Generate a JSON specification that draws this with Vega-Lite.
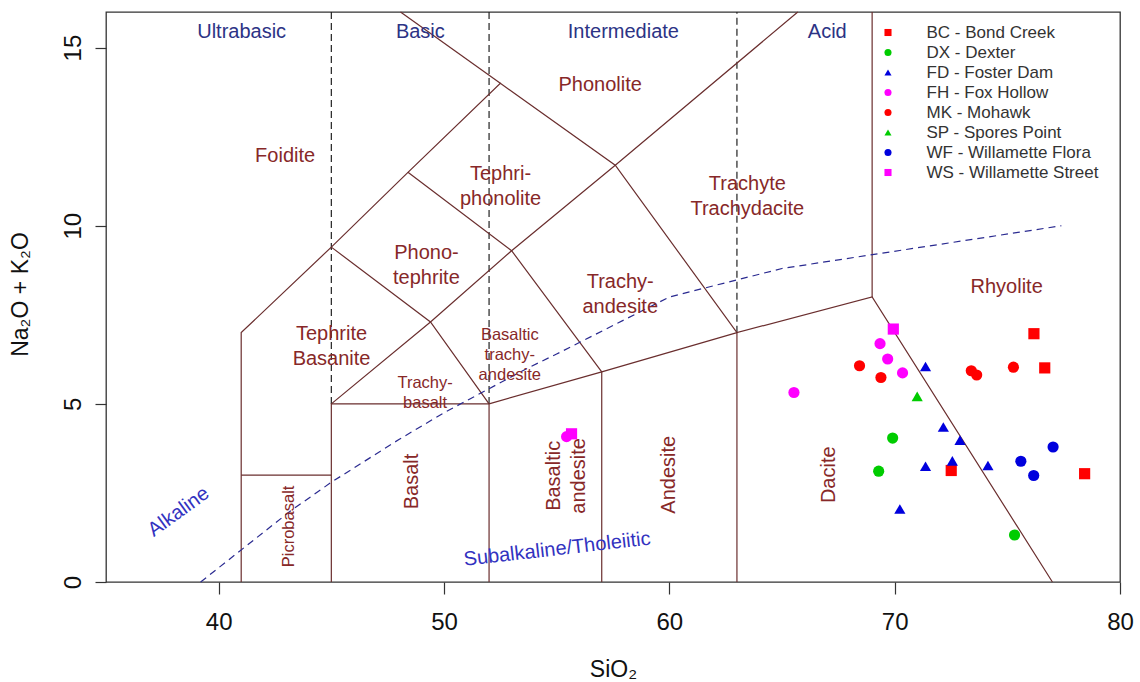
{
  "$schema": "https://vega.github.io/schema/vega-lite/v6.json",
  "width": 1014,
  "height": 570,
  "autosize": {"type": "none"},
  "padding": {"left": 106, "top": 12, "right": 20, "bottom": 100},
  "background": "white",
  "config": {
    "view": {"stroke": "#333333", "strokeWidth": 1.3},
    "font": "Liberation Sans",
    "axis": {"grid": false, "domain": false, "tickColor": "#333333", "tickWidth": 1.2, "labelFont": "Liberation Sans", "titleFont": "Liberation Sans", "labelColor": "#111111", "titleColor": "#111111", "titleFontWeight": "normal", "labelFlush": false, "labelOverlap": false}
  },
  "datasets": {
    "dashed": [
      {"seg": "a", "sio2": 45, "alkali": 5}, {"seg": "a", "sio2": 45, "alkali": 16},
      {"seg": "b", "sio2": 52, "alkali": 5}, {"seg": "b", "sio2": 52, "alkali": 16},
      {"seg": "c", "sio2": 63, "alkali": 7}, {"seg": "c", "sio2": 63, "alkali": 16}
    ],
    "bounds": [
      {"seg": "s1", "ord": 1, "sio2": 41, "alkali": 0},
      {"seg": "s1", "ord": 2, "sio2": 41, "alkali": 7},
      {"seg": "s1", "ord": 3, "sio2": 45, "alkali": 9.4},
      {"seg": "s1", "ord": 4, "sio2": 48.4, "alkali": 11.5},
      {"seg": "s1", "ord": 5, "sio2": 52.5, "alkali": 14},
      {"seg": "s1", "ord": 6, "sio2": 57.6, "alkali": 11.7},
      {"seg": "s1", "ord": 7, "sio2": 63, "alkali": 7},
      {"seg": "s1", "ord": 8, "sio2": 69, "alkali": 8},
      {"seg": "s1", "ord": 9, "sio2": 77, "alkali": 0},
      {"seg": "s2", "ord": 1, "sio2": 41, "alkali": 3},
      {"seg": "s2", "ord": 2, "sio2": 45, "alkali": 3},
      {"seg": "s3", "ord": 1, "sio2": 45, "alkali": 0},
      {"seg": "s3", "ord": 2, "sio2": 45, "alkali": 5},
      {"seg": "s3", "ord": 3, "sio2": 52, "alkali": 5},
      {"seg": "s3", "ord": 4, "sio2": 52, "alkali": 0},
      {"seg": "s4", "ord": 1, "sio2": 52, "alkali": 5},
      {"seg": "s4", "ord": 2, "sio2": 57, "alkali": 5.9},
      {"seg": "s4", "ord": 3, "sio2": 63, "alkali": 7},
      {"seg": "s5", "ord": 1, "sio2": 57, "alkali": 0},
      {"seg": "s5", "ord": 2, "sio2": 57, "alkali": 5.9},
      {"seg": "s6", "ord": 1, "sio2": 63, "alkali": 0},
      {"seg": "s6", "ord": 2, "sio2": 63, "alkali": 7},
      {"seg": "s7", "ord": 1, "sio2": 45, "alkali": 5},
      {"seg": "s7", "ord": 2, "sio2": 49.4, "alkali": 7.3},
      {"seg": "s7", "ord": 3, "sio2": 53, "alkali": 9.3},
      {"seg": "s7", "ord": 4, "sio2": 57.6, "alkali": 11.7},
      {"seg": "s7", "ord": 5, "sio2": 65.7, "alkali": 16},
      {"seg": "s8", "ord": 1, "sio2": 45, "alkali": 9.4},
      {"seg": "s8", "ord": 2, "sio2": 49.4, "alkali": 7.3},
      {"seg": "s8", "ord": 3, "sio2": 52, "alkali": 5},
      {"seg": "s9", "ord": 1, "sio2": 48.4, "alkali": 11.5},
      {"seg": "s9", "ord": 2, "sio2": 53, "alkali": 9.3},
      {"seg": "s9", "ord": 3, "sio2": 57, "alkali": 5.9},
      {"seg": "s10", "ord": 1, "sio2": 48.07, "alkali": 16},
      {"seg": "s10", "ord": 2, "sio2": 52.5, "alkali": 14},
      {"seg": "s11", "ord": 1, "sio2": 69, "alkali": 8},
      {"seg": "s11", "ord": 2, "sio2": 69, "alkali": 16}
    ],
    "alkcurve": [
      {"ord": 1, "sio2": 39.2, "alkali": 0},
      {"ord": 2, "sio2": 40, "alkali": 0.4},
      {"ord": 3, "sio2": 43.2, "alkali": 2},
      {"ord": 4, "sio2": 45, "alkali": 2.8},
      {"ord": 5, "sio2": 48, "alkali": 4},
      {"ord": 6, "sio2": 50, "alkali": 4.75},
      {"ord": 7, "sio2": 53.7, "alkali": 6},
      {"ord": 8, "sio2": 55, "alkali": 6.4},
      {"ord": 9, "sio2": 60, "alkali": 8},
      {"ord": 10, "sio2": 65, "alkali": 8.8},
      {"ord": 11, "sio2": 77.4, "alkali": 10}
    ],
    "samples": [
      {"group": "WS - Willamette Street", "sio2": 69.94, "alkali": 7.10},
      {"group": "WS - Willamette Street", "sio2": 55.66, "alkali": 4.16},
      {"group": "FH - Fox Hollow", "sio2": 69.35, "alkali": 6.69},
      {"group": "FH - Fox Hollow", "sio2": 69.69, "alkali": 6.26},
      {"group": "FH - Fox Hollow", "sio2": 70.35, "alkali": 5.87},
      {"group": "FH - Fox Hollow", "sio2": 65.53, "alkali": 5.32},
      {"group": "FH - Fox Hollow", "sio2": 55.44, "alkali": 4.08},
      {"group": "MK - Mohawk", "sio2": 68.44, "alkali": 6.07},
      {"group": "MK - Mohawk", "sio2": 69.39, "alkali": 5.74},
      {"group": "MK - Mohawk", "sio2": 73.40, "alkali": 5.93},
      {"group": "MK - Mohawk", "sio2": 73.64, "alkali": 5.81},
      {"group": "MK - Mohawk", "sio2": 75.27, "alkali": 6.03},
      {"group": "BC - Bond Creek", "sio2": 76.18, "alkali": 6.97},
      {"group": "BC - Bond Creek", "sio2": 76.66, "alkali": 6.01},
      {"group": "BC - Bond Creek", "sio2": 72.51, "alkali": 3.13},
      {"group": "BC - Bond Creek", "sio2": 78.43, "alkali": 3.04},
      {"group": "FD - Foster Dam", "sio2": 71.37, "alkali": 6.05},
      {"group": "FD - Foster Dam", "sio2": 72.16, "alkali": 4.35},
      {"group": "FD - Foster Dam", "sio2": 72.90, "alkali": 3.98},
      {"group": "FD - Foster Dam", "sio2": 72.56, "alkali": 3.40},
      {"group": "FD - Foster Dam", "sio2": 71.37, "alkali": 3.25},
      {"group": "FD - Foster Dam", "sio2": 74.14, "alkali": 3.27},
      {"group": "FD - Foster Dam", "sio2": 70.23, "alkali": 2.05},
      {"group": "SP - Spores Point", "sio2": 71.00, "alkali": 5.21},
      {"group": "DX - Dexter", "sio2": 69.91, "alkali": 4.04},
      {"group": "DX - Dexter", "sio2": 69.29, "alkali": 3.11},
      {"group": "DX - Dexter", "sio2": 75.32, "alkali": 1.32},
      {"group": "WF - Willamette Flora", "sio2": 77.03, "alkali": 3.79},
      {"group": "WF - Willamette Flora", "sio2": 75.60, "alkali": 3.39},
      {"group": "WF - Willamette Flora", "sio2": 76.17, "alkali": 2.99}
    ],
    "classlab": [
      {"label": "Ultrabasic", "sio2": 41.02, "alkali": 15.43},
      {"label": "Basic", "sio2": 48.95, "alkali": 15.43},
      {"label": "Intermediate", "sio2": 57.96, "alkali": 15.43},
      {"label": "Acid", "sio2": 67.01, "alkali": 15.43}
    ],
    "fieldbig": [
      {"label": "Foidite", "sio2": 42.95, "alkali": 11.95},
      {"label": "Phonolite", "sio2": 56.93, "alkali": 13.96},
      {"label": "Tephri-\nphonolite", "sio2": 52.51, "alkali": 11.45},
      {"label": "Trachyte\nTrachydacite", "sio2": 63.46, "alkali": 11.17},
      {"label": "Phono-\ntephrite", "sio2": 49.22, "alkali": 9.24},
      {"label": "Trachy-\nandesite", "sio2": 57.82, "alkali": 8.43},
      {"label": "Tephrite\nBasanite", "sio2": 45.01, "alkali": 6.96},
      {"label": "Rhyolite", "sio2": 74.97, "alkali": 8.29}
    ],
    "fieldsmall": [
      {"label": "Basaltic\ntrachy-\nandesite", "sio2": 52.92, "alkali": 6.94},
      {"label": "Trachy-\nbasalt", "sio2": 49.16, "alkali": 5.59}
    ],
    "fieldvert": [
      {"label": "Basalt", "sio2": 48.58, "alkali": 2.82},
      {"label": "Basaltic\nandesite", "sio2": 54.9, "alkali": 2.98},
      {"label": "Andesite", "sio2": 59.97, "alkali": 3.01},
      {"label": "Dacite", "sio2": 67.08, "alkali": 3.01}
    ],
    "picro": [
      {"label": "Picrobasalt", "sio2": 43.11, "alkali": 1.56}
    ],
    "alklab": [
      {"label": "Alkaline", "sio2": 38.22, "alkali": 1.97}
    ],
    "subalklab": [
      {"label": "Subalkaline/Tholeiitic", "sio2": 55.02, "alkali": 0.92}
    ]
  },
  "encoding": {
    "x": {
      "field": "sio2", "type": "quantitative",
      "scale": {"domain": [35, 80], "nice": false, "zero": false},
      "axis": {"values": [40, 50, 60, 70, 80], "tickSize": 12, "labelFontSize": 24, "labelBaseline": "alphabetic", "labelPadding": 35.7, "title": "SiO₂", "titleFontSize": 23, "titleY": 94.4, "titleBaseline": "alphabetic"}
    },
    "y": {
      "field": "alkali", "type": "quantitative",
      "scale": {"domain": [0, 16], "nice": false, "zero": false},
      "axis": {"values": [0, 5, 10, 15], "tickSize": 11, "labelFontSize": 24, "labelAngle": 270, "labelAlign": "center", "labelBaseline": "alphabetic", "labelPadding": 15, "title": "Na₂O + K₂O", "titleFontSize": 23, "titleAngle": 270, "titleX": -85.5, "titleY": 282, "titleAlign": "center", "titleBaseline": "middle"}
    }
  },
  "layer": [
    {
      "data": {"name": "dashed"},
      "mark": {"type": "line", "color": "#222222", "strokeWidth": 1.2, "strokeDash": [7, 4]},
      "encoding": {"detail": {"field": "seg"}}
    },
    {
      "data": {"name": "bounds"},
      "mark": {"type": "line", "color": "#6A2E2E", "strokeWidth": 1.2},
      "encoding": {"detail": {"field": "seg"}, "order": {"field": "ord"}}
    },
    {
      "data": {"name": "alkcurve"},
      "mark": {"type": "line", "color": "#2A2A90", "strokeWidth": 1.2, "strokeDash": [7, 5]},
      "encoding": {"order": {"field": "ord"}}
    },
    {
      "data": {"name": "classlab"},
      "mark": {"type": "text", "fontSize": 20, "color": "#2C3385", "align": "center", "baseline": "middle"},
      "encoding": {"text": {"field": "label"}}
    },
    {
      "data": {"name": "fieldbig"},
      "mark": {"type": "text", "fontSize": 20, "color": "#872828", "align": "center", "baseline": "middle", "lineBreak": "\n", "lineHeight": 25},
      "encoding": {"text": {"field": "label"}}
    },
    {
      "data": {"name": "fieldsmall"},
      "mark": {"type": "text", "fontSize": 16.5, "color": "#872828", "align": "center", "baseline": "middle", "lineBreak": "\n", "lineHeight": 20},
      "encoding": {"text": {"field": "label"}}
    },
    {
      "data": {"name": "fieldvert"},
      "mark": {"type": "text", "fontSize": 20, "color": "#872828", "align": "center", "baseline": "middle", "angle": 270, "lineBreak": "\n", "lineHeight": 25},
      "encoding": {"text": {"field": "label"}}
    },
    {
      "data": {"name": "picro"},
      "mark": {"type": "text", "fontSize": 16.5, "color": "#872828", "align": "center", "baseline": "middle", "angle": 270},
      "encoding": {"text": {"field": "label"}}
    },
    {
      "data": {"name": "alklab"},
      "mark": {"type": "text", "fontSize": 20, "color": "#3232C0", "align": "center", "baseline": "middle", "angle": 324},
      "encoding": {"text": {"field": "label"}}
    },
    {
      "data": {"name": "subalklab"},
      "mark": {"type": "text", "fontSize": 20, "color": "#3232C0", "align": "center", "baseline": "middle", "angle": 353.5},
      "encoding": {"text": {"field": "label"}}
    },
    {
      "data": {"name": "samples"},
      "mark": {"type": "point", "filled": true, "size": 125, "opacity": 1, "strokeWidth": 0},
      "encoding": {
        "color": {
          "field": "group", "type": "nominal",
          "scale": {
            "domain": ["BC - Bond Creek", "DX - Dexter", "FD - Foster Dam", "FH - Fox Hollow", "MK - Mohawk", "SP - Spores Point", "WF - Willamette Flora", "WS - Willamette Street"],
            "range": ["#FF0000", "#00CC00", "#0000DD", "#FF00FF", "#FF0000", "#00CC00", "#0000DD", "#FF00FF"]
          },
          "legend": {"title": null, "orient": "none", "legendX": 773.5, "legendY": 12, "labelFontSize": 17, "labelLimit": 400, "labelColor": "#333333", "labelFont": "Liberation Sans", "symbolSize": 50, "labelOffset": 30, "rowPadding": 2, "padding": 0, "symbolStrokeWidth": 0}
        },
        "shape": {
          "field": "group", "type": "nominal",
          "scale": {
            "domain": ["BC - Bond Creek", "DX - Dexter", "FD - Foster Dam", "FH - Fox Hollow", "MK - Mohawk", "SP - Spores Point", "WF - Willamette Flora", "WS - Willamette Street"],
            "range": ["square", "circle", "triangle-up", "circle", "circle", "triangle-up", "circle", "square"]
          },
          "legend": {"title": null, "orient": "none", "legendX": 773.5, "legendY": 12, "labelFontSize": 17, "labelLimit": 400, "labelColor": "#333333", "labelFont": "Liberation Sans", "symbolSize": 50, "labelOffset": 30, "rowPadding": 2, "padding": 0, "symbolStrokeWidth": 0}
        }
      }
    }
  ]
}
